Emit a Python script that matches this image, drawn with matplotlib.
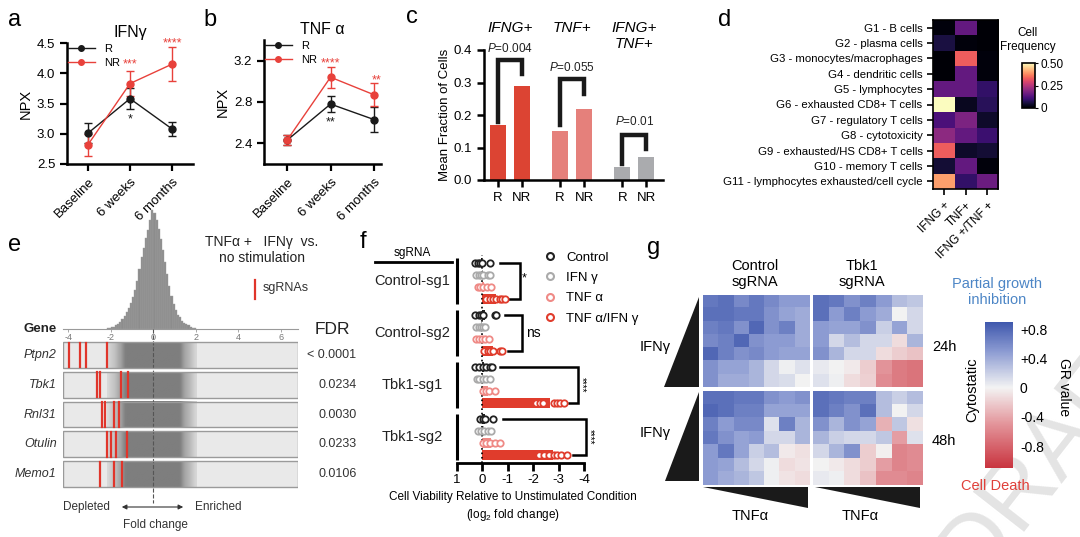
import numpy as np
import matplotlib
matplotlib.use('Agg')
import matplotlib.pyplot as plt
from matplotlib.colors import LinearSegmentedColormap
from matplotlib.patches import Polygon, Rectangle
from matplotlib.lines import Line2D
from matplotlib.transforms import blended_transform_factory
from matplotlib.cm import ScalarMappable
from matplotlib.colors import Normalize

plt.rcParams['font.family'] = ['Liberation Sans', 'DejaVu Sans']
plt.rcParams['mathtext.fontset'] = 'custom'
plt.rcParams['mathtext.it'] = 'Liberation Sans:italic'
plt.rcParams['mathtext.rm'] = 'Liberation Sans'
plt.rcParams['axes.unicode_minus'] = False

# ---- data ----
timepoints = ['Baseline', '6 weeks', '6 months']
ifng_r = [3.01, 3.58, 3.08]
ifng_r_err = [0.17, 0.17, 0.12]
ifng_nr = [2.82, 3.83, 4.15]
ifng_nr_err = [0.18, 0.21, 0.28]
tnf_r = [2.43, 2.78, 2.63]
tnf_r_err = [0.05, 0.08, 0.12]
tnf_nr = [2.43, 3.04, 2.87]
tnf_nr_err = [0.05, 0.10, 0.11]

c_groups = ['IFNG+', 'TNF+', 'IFNG+\nTNF+']
c_r = [0.17, 0.15, 0.04]
c_nr = [0.29, 0.22, 0.07]
c_pvals = ['0.004', '0.055', '0.01']

d_clusters = ['G1 - B cells', 'G2 - plasma cells', 'G3 - monocytes/macrophages',
              'G4 - dendritic cells', 'G5 - lymphocytes', 'G6 - exhausted CD8+ T cells',
              'G7 - regulatory T cells', 'G8 - cytotoxicity', 'G9 - exhausted/HS CD8+ T cells',
              'G10 - memory T cells', 'G11 - lymphocytes exhausted/cell cycle']
d_cols = ['IFNG +', 'TNF+', 'IFNG +/TNF +']
d_freq = [[0.01, 0.15, 0.005],
          [0.06, 0.01, 0.005],
          [0.005, 0.33, 0.01],
          [0.005, 0.15, 0.01],
          [0.15, 0.15, 0.09],
          [0.50, 0.03, 0.08],
          [0.12, 0.18, 0.04],
          [0.20, 0.15, 0.10],
          [0.33, 0.04, 0.05],
          [0.05, 0.15, 0.01],
          [0.40, 0.09, 0.16]]

e_hist_counts = [0.5, 1, 1.5, 2, 3, 4.5, 5.5, 8, 10.5, 14, 18, 22, 27, 33, 40, 50, 60, 68,
                 76, 83, 91, 100, 97, 91, 84, 75, 66, 56, 46, 36, 28, 21, 16, 12, 10, 7, 5,
                 4, 3, 2, 1.2, 0.6]
e_genes = ['Ptpn2', 'Tbk1', 'Rnl31', 'Otulin', 'Memo1']
e_fdr = ['< 0.0001', '0.0234', '0.0030', '0.0233', '0.0106']
e_sgrna_lfc = [[-3.95, -3.45, -3.17, -2.16],
               [-2.67, -2.51, -1.54, -1.21],
               [-2.43, -2.26, -1.84, -1.62],
               [-2.16, -1.99, -1.77, -1.25],
               [-2.53, -1.85, -1.47]]

f_sgrnas = ['Control-sg1', 'Control-sg2', 'Tbk1-sg1', 'Tbk1-sg2']
f_conditions = ['Control', 'IFN γ', 'TNF α', 'TNF α/IFN γ']
f_sig = ['*', 'ns', '****', '****']
f_values = [
    [[0.28, 0.19, 0.09, 0.03, -0.31],
     [0.25, 0.15, 0.05, -0.04, -0.21, -0.28],
     [0.19, 0.09, -0.01, -0.17, -0.35],
     [-0.15, -0.28, -0.41, -0.55, -0.68, -0.79, -0.88]],
    [[0.28, 0.15, 0.05, -0.01, -0.48, -0.55],
     [0.25, 0.15, 0.05, -0.04, -0.12],
     [0.25, 0.12, 0.01, -0.12, -0.25],
     [-0.08, -0.21, -0.31, -0.41, -0.68, -0.79]],
    [[0.28, 0.15, -0.01, -0.15, -0.28, -0.39],
     [0.23, 0.12, -0.01, -0.15, -0.28],
     [-0.01, -0.15, -0.25, -0.48],
     [-2.12, -2.25, -2.39, -2.81, -2.92, -3.05, -3.21]],
    [[0.09, -0.01, -0.12, -0.41],
     [0.19, 0.05, -0.08, -0.21, -0.35],
     [-0.01, -0.15, -0.31, -0.48, -0.68],
     [-2.21, -2.41, -2.61, -2.81, -2.95, -3.08, -3.32]],
]

gr_ctrl_24h = [[0.70, 0.75, 0.60, 0.70, 0.60, 0.50, 0.50],
               [0.75, 0.75, 0.70, 0.70, 0.55, 0.45, 0.40],
               [0.65, 0.70, 0.55, 0.80, 0.55, 0.65, 0.40],
               [0.60, 0.65, 0.80, 0.55, 0.50, 0.50, 0.40],
               [0.80, 0.65, 0.55, 0.60, 0.50, 0.45, 0.45],
               [0.55, 0.45, 0.45, 0.35, 0.15, 0.02, 0.10],
               [0.55, 0.40, 0.40, 0.35, 0.15, 0.12, 0.00]]
gr_tbk1_24h = [[0.75, 0.70, 0.55, 0.65, 0.50, 0.30, 0.25],
               [0.75, 0.50, 0.65, 0.50, 0.40, 0.00, 0.15],
               [0.50, 0.45, 0.45, 0.55, 0.20, 0.45, 0.15],
               [0.50, 0.15, 0.30, 0.15, 0.15, -0.12, 0.35],
               [0.55, 0.35, 0.15, 0.15, -0.12, -0.20, -0.25],
               [0.05, 0.00, -0.05, -0.20, -0.50, -0.65, -0.70],
               [0.10, 0.02, -0.12, -0.18, -0.55, -0.65, -0.70]]
gr_ctrl_48h = [[0.75, 0.75, 0.70, 0.70, 0.55, 0.50, 0.55],
               [0.80, 0.75, 0.65, 0.65, 0.45, 0.45, 0.45],
               [0.65, 0.50, 0.60, 0.60, 0.10, 0.65, 0.35],
               [0.70, 0.55, 0.45, 0.50, 0.15, 0.15, 0.35],
               [0.50, 0.70, 0.45, 0.20, 0.30, -0.05, -0.10],
               [0.50, 0.45, 0.30, 0.15, 0.02, -0.12, -0.08],
               [0.50, 0.40, 0.35, 0.25, 0.02, -0.08, -0.12]]
gr_tbk1_48h = [[0.75, 0.70, 0.65, 0.65, 0.30, 0.20, 0.30],
               [0.75, 0.65, 0.55, 0.75, 0.30, 0.00, 0.15],
               [0.55, 0.35, 0.55, 0.45, -0.35, 0.25, -0.10],
               [0.35, 0.20, 0.15, 0.15, 0.25, -0.45, 0.10],
               [0.15, 0.35, 0.55, -0.20, -0.02, -0.60, -0.55],
               [0.00, -0.05, -0.12, -0.20, -0.45, -0.60, -0.55],
               [0.05, 0.02, -0.12, -0.25, -0.55, -0.55, -0.60]]

# ---- layout helpers (pixel coords, origin top-left) ----
W, H = 1080, 537


def box(x0, y0, x1, y1):
    return [x0 / W, 1 - y1 / H, (x1 - x0) / W, (y1 - y0) / H]


def fx(x):
    return x / W


def fy(y):
    return 1 - y / H


RED = '#e8413b'
BLK = '#1a1a1a'

fig = plt.figure(figsize=(10.8, 5.37), dpi=100)
fig.patch.set_facecolor('white')

# watermark, behind everything
fig.text(fx(975), fy(585), 'DRAFT', rotation=52, fontsize=68, color='#e4e4e4',
         ha='left', va='baseline', rotation_mode='anchor', zorder=-5)

for lab, x, y in [('a', 8, 20), ('b', 203, 20), ('c', 406, 17), ('d', 718, 20),
                  ('e', 8, 245), ('f', 360, 242), ('g', 647, 248)]:
    fig.text(fx(x), fy(y), lab, fontsize=17, va='center', ha='left')


def npx_panel(ax, r, rerr, nr, nrerr, title):
    x = np.arange(len(timepoints))
    ax.errorbar(x, r, yerr=rerr, color=BLK, marker='o', ms=5, lw=1, capsize=3,
                elinewidth=1, zorder=3)
    ax.errorbar(x, nr, yerr=nrerr, color=RED, marker='o', ms=5, lw=1, capsize=3,
                elinewidth=1, zorder=3)
    for s in ['top', 'right']:
        ax.spines[s].set_visible(False)
    for s in ['left', 'bottom']:
        ax.spines[s].set_linewidth(1.8)
    ax.tick_params(width=1.6, length=5, labelsize=9.5)
    ax.set_xticks(x)
    ax.set_xticklabels(timepoints, rotation=45, ha='right', rotation_mode='anchor', fontsize=9.5)
    ax.set_ylabel('NPX', fontsize=10.5, labelpad=3)
    ax.set_title(title, fontsize=11.5, pad=4)
    hs = [Line2D([], [], color=BLK, marker='o', ms=4, lw=1),
          Line2D([], [], color=RED, marker='o', ms=4, lw=1)]
    ax.legend(hs, ['R', 'NR'], loc='upper left', frameon=False, fontsize=8, handlelength=2.4,
              borderaxespad=0.0, borderpad=0.1, labelspacing=0.35, handletextpad=0.8)


ax_a = fig.add_axes(box(67, 43, 193, 164))
npx_panel(ax_a, ifng_r, ifng_r_err, ifng_nr, ifng_nr_err, 'IFNγ')
ax_a.set_xlim(-0.5, 2.5)
ax_a.set_ylim(2.5, 4.5)
ax_a.set_yticks([2.5, 3.0, 3.5, 4.0, 4.5])
ax_a.text(1, 4.14, '***', color=RED, ha='center', va='center', fontsize=9)
ax_a.text(2, 4.5, '****', color=RED, ha='center', va='center', fontsize=9)
ax_a.text(1, 3.24, '*', color=BLK, ha='center', va='center', fontsize=9)

ax_b = fig.add_axes(box(264, 40, 381, 164))
npx_panel(ax_b, tnf_r, tnf_r_err, tnf_nr, tnf_nr_err, 'TNF α')
ax_b.set_xlim(-0.53, 2.16)
ax_b.set_ylim(2.2, 3.4)
ax_b.set_yticks([2.4, 2.8, 3.2])
ax_b.text(1, 3.17, '****', color=RED, ha='center', va='center', fontsize=9)
ax_b.text(1, 2.6, '**', color=BLK, ha='center', va='center', fontsize=9)
ax_b.text(2.05, 3.01, '**', color=RED, ha='center', va='center', fontsize=9)

# ---- c ----
ax_c = fig.add_axes(box(484, 50, 663, 180))
c_colors = ['#dc4433', '#e5807b', '#aaabae']
xpos = []
for i in range(3):
    xr, xn = i * 2.6, i * 2.6 + 1
    ax_c.bar([xr, xn], [c_r[i], c_nr[i]], width=0.68, color=c_colors[i])
    xpos += [xr, xn]
ax_c.set_xlim(-0.58, 6.9)
ax_c.set_ylim(0, 0.4)
ax_c.set_xticks(xpos)
ax_c.set_xticklabels(['R', 'NR'] * 3, fontsize=9.5)
ax_c.set_yticks([0, 0.1, 0.2, 0.3, 0.4])
ax_c.set_yticklabels(['0.0', '0.1', '0.2', '0.3', '0.4'])
for s in ['top', 'right']:
    ax_c.spines[s].set_visible(False)
for s in ['left', 'bottom']:
    ax_c.spines[s].set_linewidth(1.8)
ax_c.tick_params(width=1.8, length=5, labelsize=9.5)
ax_c.set_ylabel('Mean Fraction of Cells', fontsize=9.5, labelpad=2)
brackets = [(0.37, 0.18, 0.325, 0.405), (0.31, 0.17, 0.265, 0.345), (0.14, 0.05, 0.095, 0.18)]
for i, (top, lr, ln, pt) in enumerate(brackets):
    xr, xn = i * 2.6, i * 2.6 + 1
    ax_c.plot([xr, xr, xn, xn], [lr, top, top, ln], color=BLK, lw=3.2, clip_on=False,
              solid_joinstyle='miter')
    ax_c.text((xr + xn) / 2, pt, r'$\it{P}$=' + c_pvals[i], ha='center', va='center',
              fontsize=8.5, color='#222222')
for i, g in enumerate(c_groups):
    ax_c.text(i * 2.6 + 0.5, 0.49, g, ha='center', va='top', fontsize=11,
              style='italic', linespacing=1.2)

# ---- d ----
ax_d = fig.add_axes(box(933, 20, 998, 189))
im_d = ax_d.imshow(np.array(d_freq), cmap='magma', vmin=0, vmax=0.5, aspect='auto')
ax_d.set_yticks(range(len(d_clusters)))
ax_d.set_yticklabels(d_clusters, fontsize=8.2)
ax_d.set_xticks(range(3))
ax_d.set_xticklabels(d_cols, rotation=45, ha='right', rotation_mode='anchor', fontsize=8.5)
ax_d.tick_params(width=1.2, length=4)
for s in ax_d.spines.values():
    s.set_linewidth(1.2)
cax_d = fig.add_axes(box(1022, 63, 1035, 108))
cb_d = fig.colorbar(im_d, cax=cax_d, ticks=[0, 0.25, 0.5])
cb_d.ax.set_yticklabels(['0', '0.25', '0.50'], fontsize=8.5)
cb_d.ax.tick_params(length=2, width=0.8, pad=2)
cb_d.outline.set_linewidth(1.2)
fig.text(fx(1028), fy(40), 'Cell\nFrequency', ha='center', va='center', fontsize=8.5,
         linespacing=1.3)

# ---- e ----
edges = np.linspace(-2.2, 2.0, len(e_hist_counts) + 1)
ax_eh = fig.add_axes(box(63, 200, 298, 329))
ax_eh.bar(edges[:-1], e_hist_counts, width=np.diff(edges), align='edge', color='#8c8c8c',
          edgecolor='#a0a0a0', linewidth=0.3)
ax_eh.set_xlim(-4.25, 6.8)
ax_eh.set_ylim(0, 108)
for s in ['top', 'right', 'left']:
    ax_eh.spines[s].set_visible(False)
ax_eh.spines['bottom'].set_color('#9a9a9a')
ax_eh.spines['bottom'].set_linewidth(0.8)
ax_eh.set_yticks([])
ax_eh.set_xticks([-4, -2, 0, 2, 4, 6])
ax_eh.tick_params(axis='x', length=2, width=0.6, color='#9a9a9a', labelsize=6.5,
                  labelcolor='#777777', pad=1)
ax_eh.patch.set_alpha(0)

ax_e = fig.add_axes(box(63, 340, 298, 489))
shade = np.clip(np.array(e_hist_counts) / 11.0, 0, 1) ** 0.6
gray_cmap = LinearSegmentedColormap.from_list('shade', ['#e9e9e9', '#7e7e7e'])
for i, gene in enumerate(e_genes):
    top, bot = i + 0.07, i + 0.93
    ax_e.add_patch(Rectangle((-4.25, top), 11.05, bot - top, facecolor='#e9e9e9',
                             edgecolor='none', zorder=1))
    ax_e.imshow(shade[None, :], extent=(edges[0], edges[-1], bot, top), cmap=gray_cmap,
                vmin=0, vmax=1, aspect='auto', interpolation='bilinear', zorder=2)
    ax_e.add_patch(Rectangle((-4.25, top), 11.05, bot - top, facecolor='none',
                             edgecolor='#9a9a9a', lw=1.0, zorder=4))
    for v in e_sgrna_lfc[i]:
        ax_e.plot([v, v], [top + 0.02, bot - 0.02], color='#e0352b', lw=1.6, zorder=5)
    ax_e.text(-4.55, (top + bot) / 2, gene, ha='right', va='center', fontsize=9,
              style='italic', color='#333333')
    ax_e.text(9.55, (top + bot) / 2, e_fdr[i], ha='right', va='center', fontsize=9,
              color='#333333')
ax_e.plot([0, 0], [-0.37, 5.47], ls='--', color='#555555', lw=0.8, clip_on=False, zorder=3)
ax_e.set_xlim(-4.25, 6.8)
ax_e.set_ylim(5, 0)
ax_e.axis('off')

fig.text(fx(23), fy(329), 'Gene', fontsize=9.5, fontweight='bold', va='center', ha='left',
         color='#222222')
fig.text(fx(315), fy(330), 'FDR', fontsize=12.5, va='center', ha='left', color='#222222')
fig.text(fx(262), fy(250), 'TNFα +   IFNγ  vs.\nno stimulation', fontsize=10, ha='center',
         va='center', linespacing=1.1, color='#222222')
fig.add_artist(Line2D([fx(255), fx(255)], [fy(280), fy(299)], color='#e0352b', lw=1.6))
fig.text(fx(263), fy(288), 'sgRNAs', fontsize=9, va='center', ha='left', color='#333333')
fig.text(fx(63), fy(507), 'Depleted', fontsize=8.5, va='center', ha='left', color='#333333')
fig.text(fx(195), fy(507), 'Enriched', fontsize=8.5, va='center', ha='left', color='#333333')
fig.add_artist(matplotlib.patches.FancyArrowPatch((fx(119), fy(507)), (fx(186), fy(507)),
                                                  arrowstyle='<|-|>', mutation_scale=7,
                                                  color='#333333', lw=0.8,
                                                  transform=fig.transFigure))
fig.text(fx(155), fy(525), 'Fold change', fontsize=8.5, va='center', ha='center',
         color='#333333')

# ---- f ----
ax_f = fig.add_axes(box(457, 255, 584, 463))
f_colors = ['#222222', '#aaaaaa', '#ef8a86', '#e03c2c']
GSTEP = 4.35
for g in range(4):
    for r in range(4):
        y = g * GSTEP + r
        vals = f_values[g][r]
        ax_f.barh(y, np.mean(vals), height=0.78, color=f_colors[r], zorder=2)
        ax_f.plot(vals, [y] * len(vals), 'o', mfc='white', mec=f_colors[r], ms=4.6,
                  mew=1.3, zorder=4, clip_on=False)
    ax_f.plot([1, 1], [g * GSTEP - 0.45, g * GSTEP + 3.45], color='k', lw=2.2,
              clip_on=False, solid_capstyle='butt')
ax_f.set_xlim(1, -4)
ax_f.set_ylim(16.72, -0.67)
ax_f.axvline(0, color='k', ls=':', lw=1.2, zorder=3)
for s in ['top', 'right', 'left']:
    ax_f.spines[s].set_visible(False)
ax_f.spines['bottom'].set_linewidth(2)
ax_f.set_yticks([])
ax_f.set_xticks([1, 0, -1, -2, -3, -4])
ax_f.set_xticklabels(['1', '0', '-1', '-2', '-3', '-4'])
ax_f.tick_params(axis='x', width=2, length=6, labelsize=9.5, pad=2)
ax_f.patch.set_alpha(0)
bt = blended_transform_factory(ax_f.transAxes, ax_f.transData)
for g, name in enumerate(f_sgrnas):
    ax_f.text(-0.354, g * GSTEP + 1.5, name, transform=bt, ha='center', va='center',
              fontsize=10.5, color='#222222')
# significance brackets: (top arm start, bottom arm start, vertical x, label x)
fb = [(-0.68, -1.05, -1.48, -1.64), (-0.88, -1.01, -1.55, -1.72),
      (-0.68, -3.41, -3.75, -3.9), (-0.81, -3.55, -4.08, -4.22)]
for g, (xs0, xs1, xv, xt) in enumerate(fb):
    y0, y1 = g * GSTEP, g * GSTEP + 3
    ax_f.plot([xs0, xv, xv, xs1], [y0, y0, y1, y1], color='k', lw=1.8, clip_on=False,
              solid_joinstyle='miter')
    if f_sig[g].startswith('****'):
        ax_f.text(xt, (y0 + y1) / 2, f_sig[g], rotation=-90, ha='center', va='center',
                  fontsize=7, clip_on=False)
    else:
        ax_f.text(xt, (y0 + y1) / 2 - (0.2 if f_sig[g] == '*' else 0), f_sig[g],
                  ha='left' if f_sig[g] == 'ns' else 'center', va='center',
                  fontsize=10 if f_sig[g] == 'ns' else 9, clip_on=False)
fig.text(fx(412), fy(253), 'sgRNA', ha='center', va='center', fontsize=8.5)
fig.add_artist(Line2D([fx(375), fx(452)], [fy(262), fy(262)], color='k', lw=2))
handles = [Line2D([], [], ls='none', marker='o', mfc='white', mec=c, ms=5, mew=1.5)
           for c in f_colors]
fig.legend(handles, f_conditions, loc='upper left', bbox_to_anchor=(fx(537), fy(246)),
           frameon=False, fontsize=9.5, handletextpad=0.6, labelspacing=0.62,
           handlelength=1.2, borderaxespad=0)
fig.text(fx(513), fy(497), 'Cell Viability Relative to Unstimulated Condition',
         ha='center', va='center', fontsize=8.5)
fig.text(fx(513), fy(515), '(log$_2$ fold change)', ha='center', va='center', fontsize=8.5)

# ---- g ----
g_norm = Normalize(-1.1, 0.9)
gr_cmap = LinearSegmentedColormap.from_list(
    'gr', [(0.0, '#c9343f'), (0.3, '#e3949a'), (0.55, '#f3f3f3'), (0.8, '#8c9bd2'),
           (1.0, '#3f58ad')])
panels_g = [(gr_ctrl_24h, (703, 295, 810, 387)), (gr_tbk1_24h, (813, 295, 923, 387)),
            (gr_ctrl_48h, (703, 391, 810, 485)), (gr_tbk1_48h, (813, 391, 923, 485))]
for mat, bx in panels_g:
    axg = fig.add_axes(box(*bx))
    axg.imshow(np.array(mat), cmap=gr_cmap, norm=g_norm, aspect='auto',
               interpolation='nearest')
    axg.set_xticks([])
    axg.set_yticks([])
    for s in axg.spines.values():
        s.set_visible(False)

tri = [[(699, 297), (699, 387), (664, 387)], [(699, 392), (699, 481), (665, 481)],
       [(703, 487), (808, 487), (808, 508)], [(815, 487), (920, 487), (920, 508)]]
for pts in tri:
    fig.add_artist(Polygon([(fx(x), fy(y)) for x, y in pts], closed=True,
                           facecolor='#1a1a1a', edgecolor='none',
                           transform=fig.transFigure))

fig.text(fx(755), fy(274), 'Control\nsgRNA', ha='center', va='center', fontsize=10.5,
         linespacing=1.1)
fig.text(fx(862), fy(274), 'Tbk1\nsgRNA', ha='center', va='center', fontsize=10.5,
         linespacing=1.1)
fig.text(fx(655), fy(347), 'IFNγ', ha='center', va='center', fontsize=10.5)
fig.text(fx(655), fy(433), 'IFNγ', ha='center', va='center', fontsize=10.5)
fig.text(fx(944), fy(347), '24h', ha='center', va='center', fontsize=10.5)
fig.text(fx(944), fy(441), '48h', ha='center', va='center', fontsize=10.5)
fig.text(fx(750), fy(516), 'TNFα', ha='center', va='center', fontsize=10.5)
fig.text(fx(860), fy(516), 'TNFα', ha='center', va='center', fontsize=10.5)

cax_g = fig.add_axes(box(985, 322, 1013, 468))
cb_g = fig.colorbar(ScalarMappable(norm=g_norm, cmap=gr_cmap), cax=cax_g,
                    ticks=[0.8, 0.4, 0, -0.4, -0.8])
cb_g.ax.set_yticklabels(['+0.8', '+0.4', '0', '-0.4', '-0.8'], fontsize=10)
cb_g.ax.tick_params(length=0, pad=5)
cb_g.outline.set_visible(False)
fig.text(fx(997), fy(292), 'Partial growth\ninhibition', ha='center', va='center',
         fontsize=10.5, color='#4d86c6', linespacing=1.15)
fig.text(fx(995), fy(486), 'Cell Death', ha='center', va='center', fontsize=10.5,
         color='#e0403a')
fig.text(fx(972), fy(390), 'Cytostatic', ha='center', va='center', fontsize=10.5,
         rotation=90)
fig.text(fx(1064), fy(387), 'GR value', ha='center', va='center', fontsize=10,
         rotation=-90)

fig.savefig('out.png', dpi=100)
